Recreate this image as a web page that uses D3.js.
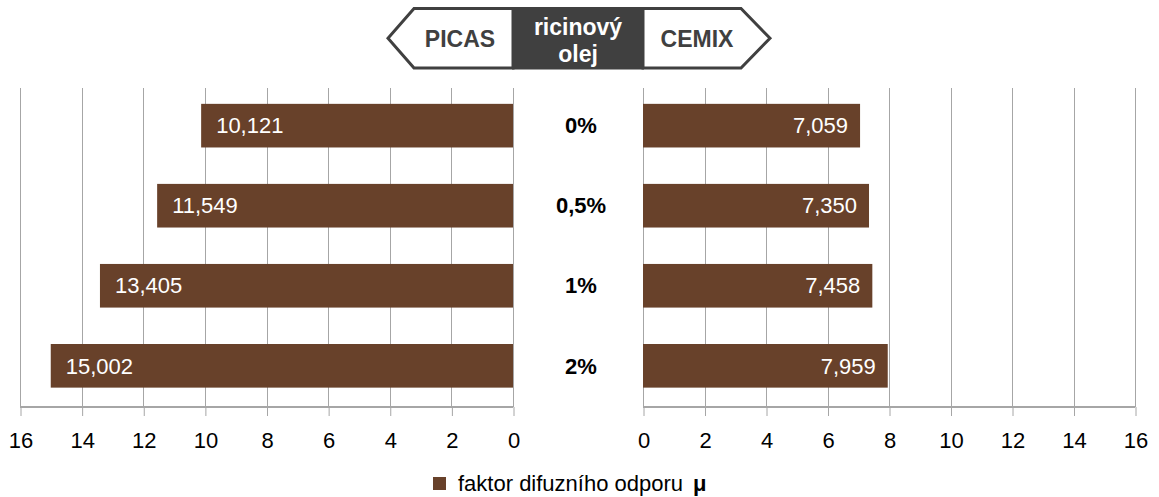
<!DOCTYPE html>
<html>
<head>
<meta charset="utf-8">
<script src="https://cdn.jsdelivr.net/npm/d3@7"></script>
<style>
  body { margin: 0; background: #fff; }
  text { font-family: "Liberation Sans", Arial, sans-serif; }
</style>
</head>
<body>
<svg id="chart" width="1159" height="497"></svg>
<script>
// data
const categories = ['0%', '0,5%', '1%', '2%'];
const picasValues = [10.121, 11.549, 13.405, 15.002];
const cemixValues = [7.059, 7.350, 7.458, 7.959];
const tickValues = [0, 2, 4, 6, 8, 10, 12, 14, 16];
const legendLabel = 'faktor difuzního odporu';

const barColor = '#68412A';
const gridColor = '#A6A6A6';
const fmt = v => d3.format('.3f')(v).replace('.', ',');

const svg = d3.select('#chart');
const plotTop = 88, plotBottom = 407;

const y = d3.scaleBand()
    .domain(categories)
    .range([plotTop, plotBottom])
    .paddingInner(0.455)
    .paddingOuter(0.22)
    .align(0.45);

const xLeft = d3.scaleLinear().domain([0, 16]).range([513, 20]);
const xRight = d3.scaleLinear().domain([0, 16]).range([643, 1135]);

// draws one half of the butterfly chart
function drawPanel(x, values, side) {
  const g = svg.append('g');

  // vertical gridlines
  g.selectAll('.grid')
    .data(tickValues)
    .enter().append('line')
      .attr('x1', d => Math.round(x(d)) + 0.5)
      .attr('x2', d => Math.round(x(d)) + 0.5)
      .attr('y1', plotTop)
      .attr('y2', plotBottom)
      .attr('stroke', gridColor)
      .attr('stroke-width', 1);

  const axis = d3.axisBottom(x)
      .tickValues(tickValues)
      .tickSize(9)
      .tickPadding(16)
      .tickFormat(d3.format('d'));

  const ax = g.append('g')
      .attr('transform', `translate(0.5,${plotBottom})`)
      .call(axis);
  ax.select('.domain').attr('stroke', gridColor).attr('stroke-width', 2).attr('d',
      `M${x.range()[0] - 0.5},0H${x.range()[1] - 0.5}`);
  ax.selectAll('.tick line').attr('stroke', gridColor);
  ax.selectAll('.tick text')
      .attr('fill', '#000')
      .style('font-size', '22px')
      .style('font-family', '"Liberation Sans", Arial, sans-serif');

  g.selectAll('.bar')
    .data(values)
    .enter().append('rect')
      .attr('x', d => Math.min(x(0), x(d)))
      .attr('y', (d, i) => y(categories[i]))
      .attr('width', d => Math.abs(x(d) - x(0)))
      .attr('height', y.bandwidth())
      .attr('fill', barColor);

  g.selectAll('.val')
    .data(values)
    .enter().append('text')
      .attr('x', d => side === 'left' ? x(d) + 15 : x(d) - 12)
      .attr('y', (d, i) => y(categories[i]) + y.bandwidth() / 2)
      .attr('dy', '0.35em')
      .attr('text-anchor', side === 'left' ? 'start' : 'end')
      .attr('fill', '#fff')
      .style('font-size', '22px')
      .text(fmt);
}

drawPanel(xLeft, picasValues, 'left');
drawPanel(xRight, cemixValues, 'right');

// category labels in the middle
svg.selectAll('.cat')
  .data(categories)
  .enter().append('text')
    .attr('x', 581)
    .attr('y', d => y(d) + y.bandwidth() / 2)
    .attr('dy', '0.35em')
    .attr('text-anchor', 'middle')
    .attr('font-weight', 'bold')
    .style('font-size', '22px')
    .text(d => d);

// header with arrows
const hdr = svg.append('g');
const hTop = 8.5, hBot = 68, hMid = (hTop + hBot) / 2;
hdr.append('path')
    .attr('d', `M513,${hTop}H414L388,${hMid}L414,${hBot}H513Z`)
    .attr('fill', '#fff').attr('stroke', '#404040').attr('stroke-width', 3);
hdr.append('path')
    .attr('d', `M643,${hTop}H741L770,${hMid}L741,${hBot}H643Z`)
    .attr('fill', '#fff').attr('stroke', '#404040').attr('stroke-width', 3);
hdr.append('rect')
    .attr('x', 512).attr('y', hTop - 1.5).attr('width', 132).attr('height', hBot - hTop + 3)
    .attr('fill', '#404040');
hdr.append('text').attr('x', 460).attr('y', 47)
    .attr('text-anchor', 'middle').attr('font-weight', 'bold').attr('fill', '#404040')
    .style('font-size', '23px').text('PICAS');
hdr.append('text').attr('x', 697).attr('y', 47)
    .attr('text-anchor', 'middle').attr('font-weight', 'bold').attr('fill', '#404040')
    .style('font-size', '23px').text('CEMIX');
hdr.append('text').attr('x', 578).attr('y', 35)
    .attr('text-anchor', 'middle').attr('font-weight', 'bold').attr('fill', '#fff')
    .style('font-size', '23px').text('ricinový');
hdr.append('text').attr('x', 578).attr('y', 62)
    .attr('text-anchor', 'middle').attr('font-weight', 'bold').attr('fill', '#fff')
    .style('font-size', '23px').text('olej');

// legend
const lg = svg.append('g');
lg.append('rect').attr('x', 433).attr('y', 477).attr('width', 13).attr('height', 13).attr('fill', barColor);
const lt = lg.append('text').attr('x', 458).attr('y', 483.5).attr('dy', '0.35em').style('font-size', '22px');
lt.append('tspan').text(legendLabel);
lt.append('tspan').attr('dx', 10).attr('font-weight', 'bold').text('μ');
</script>
</body>
</html>
